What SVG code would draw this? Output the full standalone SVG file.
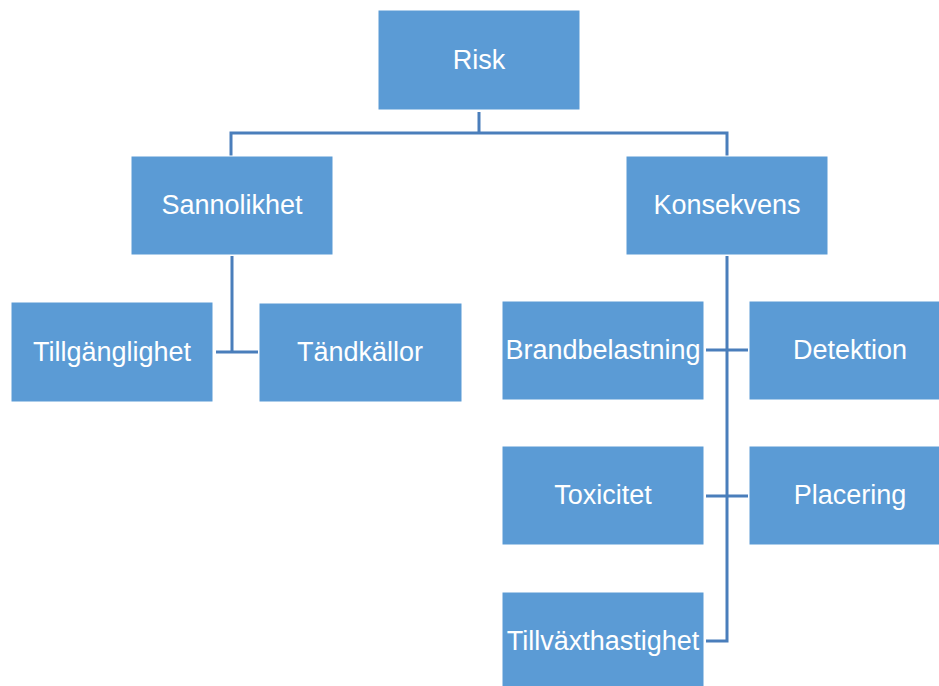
<svg xmlns="http://www.w3.org/2000/svg" width="939" height="686" viewBox="0 0 939 686">
<style>
.box{fill:#5b9bd5;stroke:#ffffff;stroke-width:1}
.lbl{font-family:"Liberation Sans",Arial,sans-serif;font-size:27px;fill:#ffffff;text-anchor:middle}
.con{fill:none;stroke:#4a7ebb;stroke-width:3}
</style>
<rect width="939" height="686" fill="#ffffff"/>
<g id="connectors">
<path class="con" d="M479,112 V133 M231,133 H727 M231,131.5 V156 M727,131.5 V156"/>
<path class="con" d="M232,256 V352 M216,352 H258"/>
<path class="con" d="M727,256 V641 H706 M706,350 H748 M706,496 H748"/>
</g>
<g id="risk"><rect class="box" x="378" y="10" width="202" height="100"/><text class="lbl" x="479" y="69">Risk</text></g>
<g id="sannolikhet"><rect class="box" x="131" y="156" width="202" height="99"/><text class="lbl" x="232" y="214">Sannolikhet</text></g>
<g id="konsekvens"><rect class="box" x="626" y="156" width="202" height="99"/><text class="lbl" x="727" y="214">Konsekvens</text></g>
<g id="tillganglighet"><rect class="box" x="11" y="302" width="202" height="100"/><text class="lbl" x="112" y="361">Tillgänglighet</text></g>
<g id="tandkallor"><rect class="box" x="259" y="303" width="203" height="99"/><text class="lbl" x="360" y="361">Tändkällor</text></g>
<g id="brandbelastning"><rect class="box" x="502" y="301" width="202" height="99"/><text class="lbl" x="603" y="359">Brandbelastning</text></g>
<g id="detektion"><rect class="box" x="749" y="301" width="202" height="99"/><text class="lbl" x="850" y="359">Detektion</text></g>
<g id="toxicitet"><rect class="box" x="502" y="446" width="202" height="99"/><text class="lbl" x="603" y="504">Toxicitet</text></g>
<g id="placering"><rect class="box" x="749" y="446" width="202" height="99"/><text class="lbl" x="850" y="504">Placering</text></g>
<g id="tillvaxthastighet"><rect class="box" x="502" y="592" width="202" height="99"/><text class="lbl" x="603" y="650">Tillväxthastighet</text></g>
</svg>
